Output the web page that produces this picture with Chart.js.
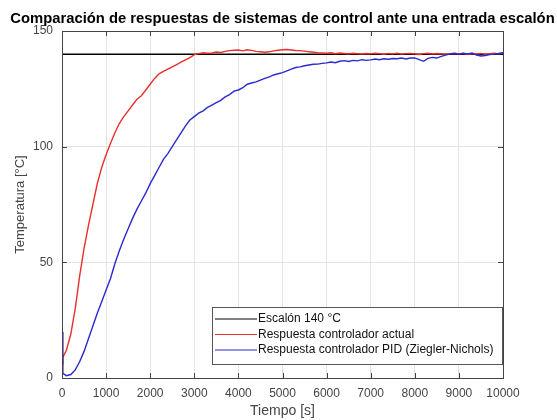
<!DOCTYPE html>
<html><head><meta charset="utf-8">
<script src="https://cdn.jsdelivr.net/npm/chart.js@4/dist/chart.umd.min.js"></script>
<style>html,body{margin:0;padding:0;background:#fff}</style>
</head><body>
<canvas id="c" width="557" height="420"></canvas>
<script>
const chartTitle = 'Comparación de respuestas de sistemas de control ante una entrada escalón';
const xAxisTitle = 'Tiempo [s]';
const yAxisTitle = 'Temperatura [°C]';
const seriesNames = ['Escalón 140 °C', 'Respuesta controlador actual', 'Respuesta controlador PID (Ziegler-Nichols)'];
const xTicks = [0,1000,2000,3000,4000,5000,6000,7000,8000,9000,10000];
const yTicks = [0,50,100,150];

const tiempo = [0,20,100,200,300,400,500,600,700,800,900,1000,1100,1200,1300,1400,1500,1600,1700,1800,1900,
2000,2100,2200,2300,2400,2500,2600,2700,2800,2900,3000,3100,3200,3300,3400,3500,3600,3700,3800,3900,
4000,4100,4200,4300,4400,4500,4600,4700,4800,4900,5000,5100,5200,5300,5400,5500,5600,5700,5800,5900,
6000,6100,6200,6300,6400,6500,6600,6700,6800,6900,7000,7100,7200,7300,7400,7500,7600,7700,7800,7900,
8000,8100,8200,8300,8400,8500,8600,8700,8800,8900,9000,9100,9200,9300,9400,9500,9600,9700,9800,9900,10000];

const escalonT = [0,10000];
const escalon = [140,140];

const actual = [6,9,12,19,30,44,56,66,75,84,91,96.5,101.5,106,110,113,115.5,118,120.5,122,124.5,
127,129.5,131.5,132.5,133.5,134.5,135.5,136.5,137.5,138.5,139.8,140.2,140.6,140.4,140.5,140.9,140.7,141.2,141.5,141.7,
141.8,141.4,141.9,141.6,141.2,141.0,140.8,141.0,141.4,141.7,141.9,142.0,141.8,141.6,141.5,141.3,141.0,140.8,140.6,140.5,
140.4,140.6,140.2,140.5,140.3,140.1,140.4,140.2,140.0,140.3,140.1,140.4,140.2,139.9,140.3,140.1,140.4,140.0,140.2,140.3,
140.1,139.8,140.2,140.4,140.0,140.3,140.1,139.9,140.2,140.4,140.1,140.3,139.8,140.2,140.0,140.3,139.9,140.2,140.4,140.1,140.5];

const pid = [20,2,1,1.5,3.5,7,11.5,17,22.5,28,33,38,43,49.5,55,60,64.5,69,73,76.5,80,
84,87.5,91,94.5,97,100,103,106,109,111.5,113,114.5,115.5,117,118,119,120,121.5,122.5,124,
124.5,125.5,127,127.5,128,128.8,129.5,130.2,131,131.5,132,132.8,133.5,134.2,134.5,135,135.3,135.6,135.7,136,
136.2,136.6,136.3,136.9,137.2,136.8,137.3,137.1,137.6,137.3,137.5,137.9,137.6,138.0,137.8,138.1,138.0,138.3,137.9,138.3,
138.4,137.6,136.9,138.2,138.6,138.3,139.0,139.6,140.1,140.3,140.0,140.4,140.1,140.5,139.6,139.2,139.4,139.8,140.0,140.3,140.6];

const colors = ['#000000', '#e8302c', '#2a2ad0'];
const FONT = "'Liberation Sans', Arial, sans-serif";

function pts(xs, ys){ return xs.map((x,i)=>({x:x, y:ys[i]})); }

const boxAndTicks = {
  id: 'boxAndTicks',
  beforeDatasetsDraw(chart){
    const {ctx, chartArea:a, scales:{x,y}} = chart;
    ctx.save();
    ctx.strokeStyle = '#444';
    ctx.lineWidth = 1;
    ctx.beginPath();
    x.ticks.forEach(t=>{
      const px = Math.round(x.getPixelForValue(t.value))+0.5;
      ctx.moveTo(px, a.bottom); ctx.lineTo(px, a.bottom-5);
      ctx.moveTo(px, a.top); ctx.lineTo(px, a.top+5);
    });
    y.ticks.forEach(t=>{
      const py = Math.round(y.getPixelForValue(t.value))+0.5;
      ctx.moveTo(a.left, py); ctx.lineTo(a.left+5, py);
      ctx.moveTo(a.right, py); ctx.lineTo(a.right-5, py);
    });
    ctx.stroke();
    ctx.restore();
  },
  afterDraw(chart){
    const {ctx, chartArea:a} = chart;
    ctx.save();
    // title centred over the axes
    ctx.fillStyle = '#000';
    ctx.font = 'bold 14.8px ' + FONT;
    ctx.textAlign = 'center';
    ctx.textBaseline = 'alphabetic';
    ctx.fillText(chartTitle, (a.left + a.right) / 2, 22.5);

    ctx.strokeStyle = '#444';
    ctx.lineWidth = 1;
    ctx.strokeRect(Math.round(a.left)+0.5, Math.round(a.top)+0.5, Math.round(a.right-a.left), Math.round(a.bottom-a.top));
    // legend inside plot
    const bx = 212.5, by = 307.5, bw = 290, bh = 57;
    ctx.fillStyle = '#fff';
    ctx.fillRect(bx, by, bw, bh);
    ctx.strokeStyle = '#555';
    ctx.strokeRect(bx, by, bw, bh);
    ctx.font = '12px ' + FONT;
    ctx.textBaseline = 'middle';
    ctx.textAlign = 'left';
    chart.data.datasets.forEach((ds,i)=>{
      const yy = 319 + i*15.5;
      ctx.strokeStyle = ds.borderColor;
      ctx.lineWidth = 1.2;
      ctx.beginPath(); ctx.moveTo(215, yy); ctx.lineTo(257, yy); ctx.stroke();
      ctx.fillStyle = '#111';
      ctx.fillText(ds.label, 258, yy);
    });
    ctx.restore();
  }
};

new Chart(document.getElementById('c'), {
  type: 'line',
  data: {
    datasets: [
      {label: seriesNames[0], data: pts(escalonT, escalon), borderColor: colors[0], borderWidth: 1.5, order: 3},
      {label: seriesNames[1], data: pts(tiempo, actual), borderColor: colors[1], borderWidth: 1.4, order: 2},
      {label: seriesNames[2], data: pts(tiempo, pid), borderColor: colors[2], borderWidth: 1.4, order: 1}
    ]
  },
  options: {
    responsive: false,
    animation: false,
    devicePixelRatio: 1,
    layout: {padding: {left: 0, right: 54, top: 31, bottom: 0}},
    elements: {point: {radius: 0}, line: {tension: 0, fill: false}},
    plugins: {
      legend: {display: false},
      tooltip: {enabled: false},
      title: {display: false}
    },
    scales: {
      x: {
        type: 'linear', min: 0, max: 10000,
        afterBuildTicks(s){ s.ticks = xTicks.map(v=>({value:v})); },
        afterFit(s){ s.height = 42; },
        grid: {color: '#e4e4e4', drawTicks: false},
        border: {display: false},
        ticks: {color: '#444', padding: 8, maxRotation: 0, autoSkip: false, font: {family: FONT, size: 12}, callback: v=>String(v)},
        title: {display: true, text: xAxisTitle, color: '#444', font: {family: FONT, size: 14}, padding: {top: 0, bottom: 0}}
      },
      y: {
        type: 'linear', min: 0, max: 150,
        afterBuildTicks(s){ s.ticks = yTicks.map(v=>({value:v})); },
        afterFit(s){ s.width = 62; },
        grid: {color: '#e4e4e4', drawTicks: false},
        border: {display: false},
        ticks: {color: '#444', padding: 9, font: {family: FONT, size: 12}, callback: v=>String(v)},
        title: {display: true, text: yAxisTitle, color: '#444', font: {family: FONT, size: 13}, padding: {top: 13, bottom: 0}}
      }
    }
  },
  plugins: [boxAndTicks]
});
</script>
</body></html>
